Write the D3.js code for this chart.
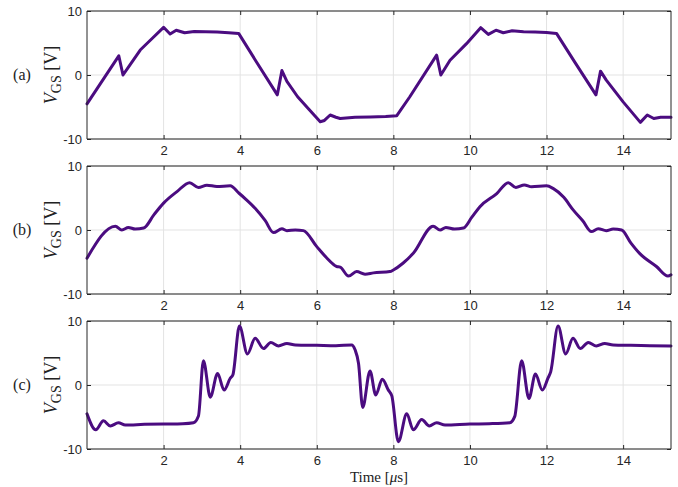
<!DOCTYPE html>
<html><head><meta charset="utf-8">
<script src="https://cdn.jsdelivr.net/npm/d3@7"></script>
<style>
body{margin:0;background:#fff;}
svg{display:block;}
.tick text{font-family:"Liberation Sans",Arial,sans-serif;font-size:13px;fill:#262626;}
</style></head>
<body><svg id="c" width="678" height="487"></svg>
<script>
// Time in microseconds, V_GS in volts
const panelLabels = ["(a)", "(b)", "(c)"];
const xTicks = [2, 4, 6, 8, 10, 12, 14];
const yTicks = [-10, 0, 10];

const timeA = [0, 0.83, 0.94, 1.1, 1.39, 1.7, 2.0, 2.17, 2.33, 2.55, 2.8, 3.1, 3.4, 3.7, 3.96, 4.43, 4.97, 5.09, 5.22, 5.5, 5.8, 6.09, 6.2, 6.35, 6.5, 6.61, 7.0, 7.4, 7.8, 8.09,
  8.43, 9.13, 9.24, 9.48, 9.91, 10.28, 10.48, 10.68, 10.87, 11.1, 11.4, 11.7, 12.0, 12.26, 12.75, 13.29, 13.41, 13.56, 14.0, 14.45, 14.63, 14.8, 14.98, 15.25];
const vgsA = [-4.5, 3.0, 0.0, 1.4, 3.9, 5.7, 7.45, 6.4, 7.0, 6.6, 6.8, 6.75, 6.7, 6.6, 6.5, 2.0, -3.1, 0.7, -1.0, -3.4, -5.4, -7.3, -7.1, -6.25, -6.6, -6.8, -6.6, -6.55, -6.5, -6.35,
  -3.4, 3.1, 0.0, 2.3, 4.9, 7.4, 6.35, 7.0, 6.6, 6.9, 6.75, 6.7, 6.65, 6.5, 1.9, -3.1, 0.6, -0.8, -4.2, -7.4, -6.25, -6.8, -6.6, -6.6];

const timeB = [0, 0.74, 0.91, 1.08, 1.26, 1.48, 1.75, 2.0, 2.35, 2.68, 2.91, 3.13, 3.39, 3.74, 3.96, 4.15, 4.39, 4.65, 4.87, 5.09, 5.22, 5.44, 5.65, 6.0, 6.25, 6.52, 6.61, 6.83, 7.04, 7.26, 7.48, 7.91, 8.0,
  8.25, 8.52, 9.04, 9.22, 9.37, 9.6, 9.83, 10.05, 10.26, 10.7, 11.0, 11.2, 11.42, 11.61, 12.0, 12.17, 12.45, 12.7, 12.95, 13.17, 13.35, 13.56, 13.74, 13.96, 14.2, 14.43, 14.87, 15.17, 15.25];
const vgsB = [-4.4, 0.6, 0.0, 0.4, 0.15, 0.3, 2.4, 4.2, 6.0, 7.4, 6.65, 7.0, 6.8, 6.9, 5.8, 4.8, 3.4, 1.5, -0.4, 0.2, -0.1, 0.0, -0.1, -2.6, -4.3, -5.7, -5.8, -7.2, -6.5, -6.9, -6.7, -6.5, -6.25,
  -5.2, -3.65, 0.6, 0.0, 0.4, 0.15, 0.3, 2.0, 3.65, 5.7, 7.4, 6.65, 7.05, 6.75, 6.9, 6.5, 5.1, 3.1, 1.4, -0.25, 0.2, -0.1, 0.15, 0.0, -2.0, -3.65, -5.7, -7.2, -7.0];

const timeC = [0, 0.23, 0.43, 0.61, 0.82, 1.0, 1.5, 2.0, 2.5, 2.78, 2.91, 3.04, 3.22, 3.41, 3.58, 3.74, 3.81, 3.98, 4.19, 4.39, 4.61, 4.8, 5.0, 5.22, 5.44, 6.0, 6.5, 6.91, 7.0, 7.09,
  7.2, 7.39, 7.54, 7.71, 7.87, 7.96, 8.13, 8.35, 8.52, 8.74, 8.94, 9.13, 9.35, 10.0, 10.5, 11.04, 11.17, 11.35, 11.54, 11.71, 11.89, 12.04, 12.11, 12.3, 12.5, 12.69, 12.88, 13.09,
  13.3, 13.52, 13.74, 14.2, 14.7, 15.25];
const vgsC = [-4.5, -7.0, -5.6, -6.4, -5.9, -6.25, -6.15, -6.1, -6.05, -5.9, -4.85, 3.8, -1.9, 1.8, -0.8, 1.05, 1.6, 9.2, 4.85, 7.3, 5.7, 6.65, 6.1, 6.5, 6.25, 6.2, 6.15, 6.25, 5.5, 3.4,
  -3.5, 2.2, -1.55, 0.9, -0.8, -1.7, -8.85, -4.5, -7.0, -5.4, -6.4, -5.9, -6.25, -6.1, -6.05, -5.9, -4.9, 3.8, -2.1, 1.7, -0.8, 1.1, 2.1, 9.2, 4.85, 7.3, 5.7, 6.65,
  6.1, 6.5, 6.25, 6.2, 6.15, 6.1];

const series = [
  {t: timeA, v: vgsA, curve: d3.curveLinear},
  {t: timeB, v: vgsB, curve: d3.curveMonotoneX},
  {t: timeC, v: vgsC, curve: d3.curveMonotoneX}
];

const svg = d3.select("#c");
const left = 87, right = 671, tops = [11, 166, 321], h = 128;
const x = d3.scaleLinear().domain([0, 15.25]).range([left, right]);
const axisColor = "#262626", gridColor = "#e3e3e3", lineColor = "#4B0C80";
const serif = "Liberation Serif, Times New Roman, serif";

series.forEach((s, i) => {
  const top = tops[i];
  const y = d3.scaleLinear().domain([-10, 10]).range([top + h, top]);
  const g = svg.append("g");
  // grid
  g.append("g").selectAll("line").data(xTicks).join("line")
    .attr("x1", d => x(d)).attr("x2", d => x(d)).attr("y1", top).attr("y2", top + h)
    .attr("stroke", gridColor).attr("stroke-width", 1);
  g.append("g").selectAll("line").data(yTicks).join("line")
    .attr("x1", left).attr("x2", right).attr("y1", d => y(d)).attr("y2", d => y(d))
    .attr("stroke", gridColor).attr("stroke-width", 1);
  // data line
  const data = s.t.map((t, k) => [t, s.v[k]]);
  g.append("path").datum(data)
    .attr("fill", "none").attr("stroke", lineColor).attr("stroke-width", 3)
    .attr("stroke-linejoin", "round").attr("stroke-linecap", "round")
    .attr("d", d3.line().x(d => x(d[0])).y(d => y(d[1])).curve(s.curve));
  // axes
  const fmt = d => String(d);
  const xb = g.append("g").attr("transform", `translate(0,${top + h})`)
    .call(d3.axisBottom(x).tickValues(xTicks).tickSize(-4).tickPadding(7).tickFormat(fmt));
  const xt = g.append("g").attr("transform", `translate(0,${top})`)
    .call(d3.axisTop(x).tickValues(xTicks).tickSize(-4).tickFormat(""));
  const yl = g.append("g").attr("transform", `translate(${left},0)`)
    .call(d3.axisLeft(y).tickValues(yTicks).tickSize(-4).tickPadding(5).tickFormat(fmt));
  const yr = g.append("g").attr("transform", `translate(${right},0)`)
    .call(d3.axisRight(y).tickValues(yTicks).tickSize(-4).tickFormat(""));
  [xb, xt, yl, yr].forEach(a => {
    a.select(".domain").attr("stroke", axisColor).attr("stroke-width", 1);
    a.selectAll(".tick line").attr("stroke", axisColor);
  });
  [xb, xt].forEach(a => a.select(".domain").attr("d", `M${left},0H${right}`));
  [yl, yr].forEach(a => a.select(".domain").attr("d", `M0,${top}V${top + h}`));

  // labels
  const cy = top + h / 2;
  svg.append("text").attr("x", 22).attr("y", cy + 5).attr("text-anchor", "middle")
    .attr("font-family", serif).attr("font-size", 16)
    .attr("fill", "#222").text(panelLabels[i]);
  const yt = svg.append("text").attr("transform", `translate(57,${cy}) rotate(-90)`)
    .attr("text-anchor", "middle").attr("font-family", serif)
    .attr("font-size", 18).attr("fill", "#222");
  yt.append("tspan").attr("font-style", "italic").text("V");
  yt.append("tspan").attr("font-size", 14).attr("dy", 4).text("GS");
  yt.append("tspan").attr("dy", -4).text(" [V]");
});

const xl = svg.append("text").attr("x", (left + right) / 2).attr("y", 482).attr("text-anchor", "middle")
  .attr("font-family", serif).attr("font-size", 15).attr("fill", "#222");
xl.append("tspan").text("Time [");
xl.append("tspan").attr("font-style", "italic").text("μ");
xl.append("tspan").text("s]");
</script></body></html>
